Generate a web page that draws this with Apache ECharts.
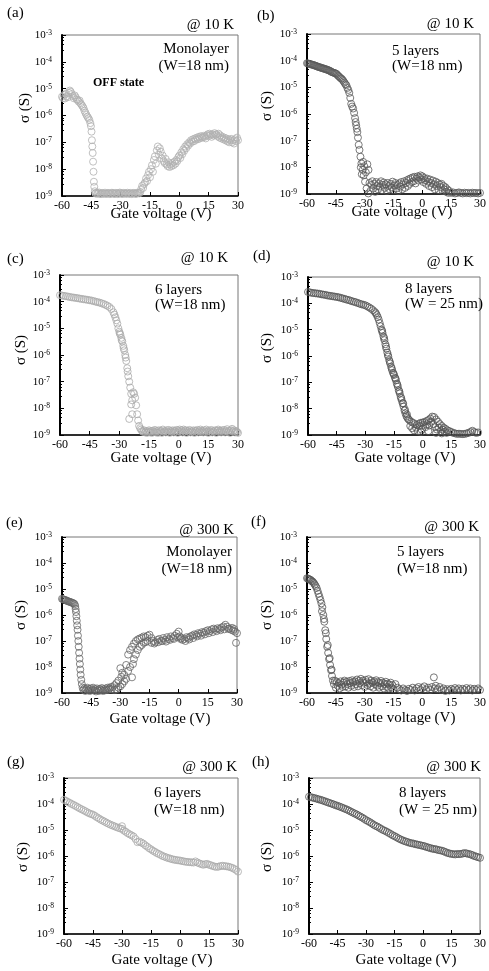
<!DOCTYPE html>
<html><head><meta charset="utf-8">
<script src="https://cdn.jsdelivr.net/npm/echarts@6/dist/echarts.min.js"></script>
<style>html,body{margin:0;padding:0;background:#fff}#c{width:489px;height:971px}</style>
</head><body><div id="c"></div>
<script>
// ---------------- DATA ----------------
const xTicks = [-60, -45, -30, -15, 0, 15, 30];
const yDecades = [-9, -8, -7, -6, -5, -4, -3];
const panelLabels = ['(a)', '(b)', '(c)', '(d)', '(e)', '(f)', '(g)', '(h)'];
const temps = ['@ 10 K', '@ 10 K', '@ 10 K', '@ 10 K', '@ 300 K', '@ 300 K', '@ 300 K', '@ 300 K'];
const sampleName = ['Monolayer', '5 layers', '6 layers', '8 layers', 'Monolayer', '5 layers', '6 layers', '8 layers'];
const sampleWidth = ['(W=18 nm)', '(W=18 nm)', '(W=18 nm)', '(W = 25 nm)', '(W=18 nm)', '(W=18 nm)', '(W=18 nm)', '(W = 25 nm)'];
const xTitle = 'Gate voltage (V)';
const yTitle = 'σ (S)';
const offNote = 'OFF state';

// (a) Monolayer @10 K  [gate voltage V, conductance S]
const mono10 = [
[-60,5.0e-6],[-59.5,4.4e-6],[-59,5.8e-6],[-58.5,4.3e-6],[-58,6.5e-6],[-57.5,5.2e-6],[-57,4.8e-6],[-56.5,7.0e-6],[-56,8.5e-6],[-55.5,7.6e-6],[-55,6.3e-6],[-54.5,5.3e-6],[-54,4.4e-6],[-53.5,5.6e-6],[-53,4.8e-6],[-52.5,4.0e-6],[-52,3.8e-6],[-51.5,3.3e-6],[-51,3.6e-6],[-50.5,2.8e-6],[-50,2.5e-6],[-49.5,2.2e-6],[-49,1.9e-6],[-48.5,1.5e-6],[-48,1.25e-6],[-47.5,1.05e-6],[-47,9e-7],[-46.5,8e-7],[-46,6.8e-7],[-45.5,5.2e-7],[-45.2,4e-7],[-44.9,2.5e-7],[-44.7,1.2e-7],[-44.5,7e-8],[-44.3,4e-8],[-44.1,1.9e-8],[-43.9,8e-9],[-43.7,3.4e-9],[-43.5,2.2e-9],[-43.2,1.5e-9],
[-43,1.25e-9],[-42.5,1.32e-9],[-42,1.2e-9],[-41.5,1.28e-9],[-41,1.35e-9],[-40.5,1.2e-9],[-40,1.18e-9],[-39.5,1.3e-9],[-39,1.25e-9],[-38.5,1.2e-9],[-38,1.33e-9],[-37.5,1.22e-9],[-37,1.2e-9],[-36.5,1.3e-9],[-36,1.27e-9],[-35.5,1.18e-9],[-35,1.22e-9],[-34.5,1.32e-9],[-34,1.3e-9],[-33.5,1.2e-9],[-33,1.2e-9],[-32.5,1.3e-9],[-32,1.28e-9],[-31.5,1.18e-9],[-31,1.22e-9],[-30.5,1.34e-9],[-30,1.3e-9],[-29.5,1.2e-9],[-29,1.2e-9],[-28.5,1.3e-9],[-28,1.27e-9],[-27.5,1.2e-9],[-27,1.25e-9],[-26.5,1.32e-9],[-26,1.2e-9],[-25.5,1.25e-9],[-25,1.3e-9],[-24.5,1.18e-9],[-24,1.22e-9],[-23.5,1.3e-9],[-23,1.28e-9],[-22.5,1.2e-9],[-22,1.2e-9],[-21.5,1.33e-9],[-21,1.3e-9],[-20.5,1.25e-9],
[-20,1.4e-9],[-19.5,1.8e-9],[-19,2.4e-9],[-18.5,2.0e-9],[-18,2.8e-9],[-17.5,3.2e-9],[-17,4.5e-9],[-16.5,3.6e-9],[-16,6e-9],[-15.5,8e-9],[-15,5e-9],[-14.5,1.0e-8],[-14,1.4e-8],[-13.5,8e-9],[-13,2.2e-8],[-12.5,3.0e-8],[-12,1.6e-8],[-11.5,5e-8],[-11,7e-8],[-10.5,3.5e-8],[-10,6e-8],[-9.5,4.5e-8],[-9,2.5e-8],[-8.5,3.2e-8],[-8,2e-8],[-7.5,1.7e-8],[-7,2.4e-8],[-6.5,1.5e-8],[-6,1.3e-8],[-5.5,1.8e-8],[-5,1.2e-8],[-4.5,1.5e-8],[-4,1.3e-8],[-3.5,1.7e-8],[-3,1.4e-8],[-2.5,1.9e-8],[-2,1.6e-8],[-1.5,2.2e-8],[-1,2.0e-8],[-0.5,2.8e-8],[0,3.2e-8],[0.5,2.6e-8],[1,4.2e-8],[1.5,3.6e-8],[2,5.5e-8],[2.5,4.8e-8],[3,7e-8],[3.5,6e-8],[4,8.5e-8],[4.5,7.5e-8],[5,1.0e-7],[5.5,9e-8],[6,1.2e-7],[6.5,1.05e-7],[7,1.3e-7],[7.5,1.1e-7],[8,1.4e-7],[8.5,1.25e-7],[9,1.5e-7],[9.5,1.3e-7],[10,1.6e-7],[10.5,1.4e-7],[11,1.7e-7],[11.5,1.5e-7],[12,1.55e-7],[12.5,1.75e-7],[13,1.6e-7],[13.5,1.4e-7],[14,1.8e-7],[14.5,2.0e-7],[15,1.7e-7],[15.5,2.1e-7],[16,1.9e-7],[16.5,1.6e-7],[17,2.0e-7],[17.5,1.8e-7],[18,2.2e-7],[18.5,1.9e-7],[19,2.0e-7],[19.5,1.7e-7],[20,2.1e-7],[20.5,1.5e-7],[21,1.8e-7],[21.5,1.4e-7],[22,1.6e-7],[22.5,1.3e-7],[23,1.5e-7],[23.5,1.2e-7],[24,1.4e-7],[24.5,1.1e-7],[25,1.3e-7],[25.5,1.0e-7],[26,1.2e-7],[26.5,1.35e-7],[27,1.0e-7],[27.5,1.2e-7],[28,9e-8],[28.5,1.3e-7],[29,1.1e-7],[29.5,1.5e-7],[30,1.2e-7]
];

// (b) 5 layers @10 K
const five10 = [
[-60,8.0e-5],[-59.5,7.8e-5],[-59,7.7e-5],[-58.5,7.5e-5],[-58,7.3e-5],[-57.5,7.1e-5],[-57,7.0e-5],[-56.5,6.8e-5],[-56,6.6e-5],[-55.5,6.4e-5],[-55,6.2e-5],[-54.5,6.0e-5],[-54,5.8e-5],[-53.5,5.7e-5],[-53,5.5e-5],[-52.5,5.4e-5],[-52,5.2e-5],[-51.5,5.1e-5],[-51,5.0e-5],[-50.5,4.8e-5],[-50,4.7e-5],[-49.5,4.6e-5],[-49,4.4e-5],[-48.5,4.3e-5],[-48,4.1e-5],[-47.5,3.9e-5],[-47,3.7e-5],[-46.5,3.6e-5],[-46,3.5e-5],[-45.5,3.4e-5],[-45,3.3e-5],[-44.5,3.1e-5],[-44,2.8e-5],[-43.5,2.6e-5],[-43,2.4e-5],[-42.5,2.2e-5],[-42,2.1e-5],[-41.5,1.9e-5],[-41,1.7e-5],[-40.5,1.5e-5],[-40,1.3e-5],[-39.5,1.2e-5],[-39,9.5e-6],[-38.5,8e-6],[-38,6.2e-6],[-37.5,4e-6],[-37,2.4e-6],[-36.5,1.9e-6],[-36,1.6e-6],[-35.5,1.1e-6],[-35,7e-7],[-34.7,5e-7],[-34.4,3.8e-7],[-34.1,2.8e-7],[-33.8,2.1e-7],[-33.5,1.3e-7],[-33.1,7e-8],[-32.7,4.5e-8],[-32.2,2.5e-8],[-31.7,1.4e-8],[-31,8e-9],[-30.5,5e-9],[-29.8,2.9e-9],[-29,1.6e-9],[-28.1,1.05e-9],
[-32,1.0e-8],[-31.5,5.5e-9],[-30.8,1.6e-8],[-30.2,1.1e-8],[-29.4,6.5e-9],[-28.6,1.3e-8],[-28,8e-9],
[-27.5,2.6e-9],[-27,1.3e-9],[-26.5,2.2e-9],[-26,3.0e-9],[-25.5,1.6e-9],[-25,2.4e-9],[-24.5,1.2e-9],[-24,2.8e-9],[-23.5,2.0e-9],[-23,1.5e-9],[-22.5,2.5e-9],[-22,1.9e-9],[-21.5,3.0e-9],[-21,1.4e-9],[-20.5,2.2e-9],[-20,2.7e-9],[-19.5,1.7e-9],[-19,2.3e-9],[-18.5,1.3e-9],[-18,2.6e-9],[-17.5,2.0e-9],[-17,1.5e-9],[-16.5,2.4e-9],[-16,1.8e-9],[-15.5,2.9e-9],[-15,1.4e-9],[-14.5,2.1e-9],[-14,2.6e-9],[-13.5,1.6e-9],[-13,2.2e-9],[-12.5,1.3e-9],[-12,2.5e-9],[-11.5,1.9e-9],[-11,2.8e-9],[-10.5,1.5e-9],[-10,2.3e-9],[-9.5,3.0e-9],[-9,1.7e-9],[-8.5,2.6e-9],[-8,3.3e-9],[-7.5,2.0e-9],[-7,3.6e-9],[-6.5,2.4e-9],[-6,3.9e-9],[-5.5,2.8e-9],[-5,4.2e-9],[-4.5,3.0e-9],[-4,4.4e-9],[-3.5,2.5e-9],[-3,3.8e-9],[-2.5,4.6e-9],[-2,3.2e-9],[-1.5,4.2e-9],[-1,5.0e-9],[-0.5,3.5e-9],[0,4.6e-9],[0.5,2.8e-9],[1,4.0e-9],[1.5,3.3e-9],[2,2.4e-9],[2.5,3.8e-9],[3,2.9e-9],[3.5,2.0e-9],[4,3.5e-9],[4.5,2.6e-9],[5,1.8e-9],[5.5,3.2e-9],[6,2.3e-9],[6.5,1.5e-9],[7,2.9e-9],[7.5,2.0e-9],[8,2.6e-9],[8.5,1.4e-9],[9,2.3e-9],[9.5,1.8e-9],[10,2.4e-9],[10.5,1.3e-9],[11,2.0e-9],[11.5,1.5e-9],[12,1.8e-9],[12.5,1.2e-9],[13,1.5e-9],[13.5,1.1e-9],[14,1.3e-9],[15,1.1e-9],[16,1.15e-9],[17,1.05e-9],[18,1.1e-9],[19,1.15e-9],[20,1.1e-9],[21,1.05e-9],[22,1.12e-9],[23,1.08e-9],[24,1.1e-9],[25,1.05e-9],[26,1.12e-9],[27,1.08e-9],[28,1.1e-9],[29,1.05e-9],[30,1.1e-9]
];

// (c) 6 layers @10 K
const six10 = [
[-60,1.75e-4],[-59,1.7e-4],[-58,1.65e-4],[-57,1.6e-4],[-56,1.55e-4],[-55,1.5e-4],[-54,1.45e-4],[-53,1.42e-4],[-52,1.38e-4],[-51,1.35e-4],[-50,1.3e-4],[-49,1.27e-4],[-48,1.23e-4],[-47,1.2e-4],[-46,1.17e-4],[-45,1.13e-4],[-44,1.1e-4],[-43,1.05e-4],[-42,1.0e-4],[-41,9.6e-5],[-40,9.2e-5],[-39,8.7e-5],[-38,8.2e-5],[-37,7.6e-5],[-36,7e-5],[-35,6.3e-5],[-34,5.3e-5],[-33,4.0e-5],[-32.5,3.3e-5],[-32,2.6e-5],[-31.5,2.0e-5],[-31,1.5e-5],[-30.5,1.0e-5],[-30,7.5e-6],[-29.5,5.8e-6],[-29,4.4e-6],[-28.5,3.2e-6],[-28,2.2e-6],[-27.5,1.5e-6],[-27,1.0e-6],[-26.5,6e-7],[-26,3.2e-7],[-25.5,1.6e-7],[-25,1.0e-7],[-24.5,6e-8],[-24,3.5e-8],[-23.5,2e-8],[-23,4e-8],[-22.5,3.5e-8],[-22,2.5e-8],[-21.5,1.3e-8],[-21,6e-9],[-20.5,3.5e-9],[-20,2.2e-9],
[-29.8,6.5e-6],[-28.8,3.6e-6],[-27.8,1.8e-6],[-26.8,8e-7],[-25.8,2.4e-7],[-25,4e-9],[-23.5,6e-9],[-24,1.4e-8],
[-19.5,1.8e-9],[-19,1.6e-9],[-18.5,1.4e-9],[-18,1.3e-9],[-17.5,1.5e-9],[-17,1.25e-9],[-16.5,1.4e-9],[-16,1.2e-9],[-15.5,1.35e-9],[-15,1.5e-9],[-14.5,1.25e-9],[-14,1.4e-9],[-13.5,1.2e-9],[-13,1.45e-9],[-12.5,1.3e-9],[-12,1.55e-9],[-11.5,1.25e-9],[-11,1.4e-9],[-10.5,1.2e-9],[-10,1.5e-9],[-9.5,1.3e-9],[-9,1.45e-9],[-8.5,1.2e-9],[-8,1.6e-9],[-7.5,1.3e-9],[-7,1.4e-9],[-6.5,1.25e-9],[-6,1.5e-9],[-5.5,1.3e-9],[-5,1.55e-9],[-4.5,1.2e-9],[-4,1.4e-9],[-3.5,1.3e-9],[-3,1.5e-9],[-2.5,1.25e-9],[-2,1.45e-9],[-1.5,1.3e-9],[-1,1.55e-9],[-0.5,1.2e-9],[0,1.4e-9],[0.5,1.6e-9],[1,1.3e-9],[1.5,1.5e-9],[2,1.25e-9],[2.5,1.6e-9],[3,1.35e-9],[3.5,1.5e-9],[4,1.2e-9],[4.5,1.45e-9],[5,1.3e-9],[5.5,1.55e-9],[6,1.25e-9],[6.5,1.4e-9],[7,1.3e-9],[7.5,1.5e-9],[8,1.2e-9],[8.5,1.45e-9],[9,1.3e-9],[9.5,1.55e-9],[10,1.25e-9],[10.5,1.4e-9],[11,1.6e-9],[11.5,1.3e-9],[12,1.45e-9],[12.5,1.25e-9],[13,1.5e-9],[13.5,1.3e-9],[14,1.6e-9],[14.5,1.35e-9],[15,1.2e-9],[15.5,1.45e-9],[16,1.3e-9],[16.5,1.55e-9],[17,1.25e-9],[17.5,1.4e-9],[18,1.3e-9],[18.5,1.5e-9],[19,1.2e-9],[19.5,1.45e-9],[20,1.6e-9],[20.5,1.3e-9],[21,1.45e-9],[21.5,1.25e-9],[22,1.5e-9],[22.5,1.3e-9],[23,1.55e-9],[23.5,1.25e-9],[24,1.4e-9],[24.5,1.65e-9],[25,1.3e-9],[25.5,1.45e-9],[26,1.2e-9],[26.5,1.5e-9],[27,1.7e-9],[27.5,1.35e-9],[28,1.5e-9],[28.5,1.25e-9],[29,1.4e-9],[29.5,1.3e-9],[30,1.2e-9]
];

// (d) 8 layers @10 K
const eight10 = [
[-60,2.7e-4],[-59,2.6e-4],[-58,2.5e-4],[-57,2.45e-4],[-56,2.4e-4],[-55,2.35e-4],[-54,2.3e-4],[-53,2.2e-4],[-52,2.15e-4],[-51,2.1e-4],[-50,2.0e-4],[-49,1.95e-4],[-48,1.9e-4],[-47,1.85e-4],[-46,1.8e-4],[-45,1.75e-4],[-44,1.7e-4],[-43,1.62e-4],[-42,1.55e-4],[-41,1.48e-4],[-40,1.4e-4],[-39,1.35e-4],[-38,1.28e-4],[-37,1.2e-4],[-36,1.15e-4],[-35,1.1e-4],[-34,1.03e-4],[-33,9.7e-5],[-32,9.2e-5],[-31,8.8e-5],[-30,8.4e-5],[-29,7.7e-5],[-28,7e-5],[-27,6.3e-5],[-26,5.5e-5],[-25,4.7e-5],[-24.5,4.2e-5],[-24,3.6e-5],[-23.5,3.0e-5],[-23,2.4e-5],[-22.5,1.8e-5],[-22,1.35e-5],[-21.5,1.0e-5],[-21,7.5e-6],[-20.5,5.5e-6],[-20,4e-6],[-19.5,2.8e-6],[-19,1.9e-6],[-18.5,1.35e-6],[-18,9.5e-7],[-17.5,7e-7],[-17,5.2e-7],[-16.5,3.9e-7],[-16,2.9e-7],[-15.5,2.3e-7],[-15,1.9e-7],[-14.5,1.5e-7],[-14,1.2e-7],[-13.5,9e-8],[-13,6.8e-8],[-12.5,5e-8],[-12,3.8e-8],[-11.5,2.8e-8],[-11,2.1e-8],[-10.5,1.6e-8],[-10,1.2e-8],[-9.5,8.5e-9],[-9,6.6e-9],[-8.5,5.2e-9],[-8,4.5e-9],[-7.5,4e-9],[-7,3.7e-9],[-6,3.2e-9],[-5,2.9e-9],[-4,2.6e-9],[-3,2.4e-9],[-2,2.7e-9],[-1,2.9e-9],[0,3.0e-9],[1,3.1e-9],[2,3.4e-9],[3,3.7e-9],[4,4.2e-9],[5,5.0e-9],[6,4.8e-9],[7,3.9e-9],[8,3.2e-9],[9,2.6e-9],[10,2.2e-9],[11,1.9e-9],[12,1.7e-9],[13,1.5e-9],[14,1.4e-9],[15,1.3e-9],[16,1.2e-9],[17,1.15e-9],[18,1.1e-9],[19,1.12e-9],[20,1.1e-9],[21,1.08e-9],[22,1.1e-9],[23,1.15e-9],[24,1.2e-9],[25,1.3e-9],[26,1.45e-9],[27,1.3e-9],[28,1.2e-9],[29,1.25e-9],
[-21.2,9e-6],[-20.2,4.8e-6],[-19.2,2.3e-6],[-18.2,1.1e-6],[-17.2,6e-7],[-16.2,3.4e-7],[-15.2,2.1e-7],[-14.2,1.4e-7],[-13.2,8e-8],[-12.2,4.5e-8],[-11.2,2.5e-8],[-10.2,1.6e-8],[-9.2,9e-9],[-8.2,6e-9],
[-6.5,2.2e-9],[-5.5,1.8e-9],[-4.5,1.5e-9],[-3.5,1.9e-9],[-2.5,1.4e-9],[-1.5,2.2e-9],[-0.5,1.6e-9],[0.5,2.4e-9],[1.5,2.0e-9],[2.5,2.6e-9],[3.5,2.3e-9],[4.5,3.2e-9],[5.5,2.6e-9],[6.5,2.0e-9],[7.5,1.6e-9],[8.5,1.9e-9],[9.5,1.4e-9],[10.5,1.6e-9],[11.5,1.3e-9],[12.5,1.2e-9],[-1,1.3e-9],[3,1.4e-9],[7,1.2e-9],[10,1.15e-9]
];

// (e) Monolayer @300 K
const mono300 = [
[-60,4.2e-6],[-59.5,4.0e-6],[-59,3.9e-6],[-58.5,3.8e-6],[-58,3.7e-6],[-57.5,3.5e-6],[-57,3.4e-6],[-56.5,3.3e-6],[-56,3.2e-6],[-55.5,3.1e-6],[-55,3.0e-6],[-54.5,2.9e-6],[-54,2.8e-6],[-53.5,2.6e-6],[-53.2,2.2e-6],[-53,1.7e-6],[-52.8,1.3e-6],[-52.6,9e-7],[-52.4,6e-7],[-52.2,4e-7],[-52,2.7e-7],[-51.8,1.6e-7],[-51.6,1.0e-7],[-51.4,6e-8],[-51.2,3.5e-8],[-51,2.1e-8],[-50.8,1.3e-8],[-50.6,8e-9],[-50.4,5e-9],[-50.1,3.2e-9],[-49.8,2.2e-9],[-49.4,1.6e-9],
[-49,1.3e-9],[-48.5,1.5e-9],[-48,1.2e-9],[-47.5,1.4e-9],[-47,1.6e-9],[-46.5,1.25e-9],[-46,1.45e-9],[-45.5,1.2e-9],[-45,1.5e-9],[-44.5,1.3e-9],[-44,1.6e-9],[-43.5,1.25e-9],[-43,1.4e-9],[-42.5,1.15e-9],[-42,1.5e-9],[-41.5,1.3e-9],[-41,1.2e-9],[-40.5,1.45e-9],[-40,1.3e-9],[-39.5,1.55e-9],[-39,1.2e-9],[-38.5,1.4e-9],[-38,1.25e-9],[-37.5,1.5e-9],[-37,1.3e-9],[-36.5,1.6e-9],[-36,1.35e-9],[-35.5,1.5e-9],[-35,1.7e-9],[-34.5,1.4e-9],
[-34,1.7e-9],[-33,2e-9],[-32,2.4e-9],[-31,3e-9],[-30,9e-9],[-29.5,4.2e-9],[-29,6e-9],[-28,5e-9],[-27,1.2e-8],[-26,3e-8],[-25,4.5e-8],[-24,6e-8],[-23,8e-8],[-22,1.0e-7],[-21,1.15e-7],[-20,1.25e-7],[-19,1.35e-7],[-18,1.5e-7],[-17,1.4e-7],[-16,1.6e-7],[-15,1.75e-7],
[-33,1.3e-9],[-32,1.4e-9],[-31,1.6e-9],[-30,1.8e-9],[-29,2.2e-9],[-28,2.8e-9],[-27,3.5e-9],[-26,7e-9],[-25,1.0e-8],[-24,4e-9],[-23.5,1.3e-8],[-23,2.0e-8],[-22,3e-8],[-21,4.5e-8],[-20,6e-8],[-19,7e-8],[-18,8.5e-8],[-17,9e-8],[-16,1.0e-7],[-14,8.5e-8],
[-14,1.3e-7],[-13,1.0e-7],[-12,9e-8],[-11,1.1e-7],[-10,1.2e-7],[-9,1.0e-7],[-8,1.3e-7],[-7,1.1e-7],[-6,1.4e-7],[-5,1.2e-7],[-4,1.5e-7],[-3,1.3e-7],[-2,1.6e-7],[-1,1.9e-7],[0,2.3e-7],[0.5,1.5e-7],[1,1.2e-7],[2,1.1e-7],[3,1.2e-7],[4,1.4e-7],[5,1.3e-7],[6,1.5e-7],[7,1.6e-7],[8,1.8e-7],[9,1.7e-7],[10,2.0e-7],[11,1.9e-7],[12,2.2e-7],[13,2.1e-7],[14,2.4e-7],[15,2.6e-7],[16,2.4e-7],[17,2.8e-7],[18,3.0e-7],[19,2.7e-7],[20,3.1e-7],[21,2.9e-7],[22,3.3e-7],[23,3.6e-7],[24,4.2e-7],[25,3.5e-7],[26,3.0e-7],[27,2.7e-7],[28,2.5e-7],[29,2.3e-7],[29.5,8.5e-8],[30,2.0e-7],
[-12.5,8e-8],[-10.5,9e-8],[-8.5,1.0e-7],[-6.5,9.5e-8],[-4.5,1.1e-7],[-2.5,1.2e-7],[-0.5,1.4e-7],[1.5,1.3e-7],[3.5,1.0e-7],[5.5,1.15e-7],[7.5,1.3e-7],[9.5,1.5e-7],[11.5,1.6e-7],[13.5,1.8e-7],[15.5,2.0e-7],[17.5,2.2e-7],[19.5,2.4e-7],[21.5,2.6e-7],[23.5,2.8e-7],[25.5,2.9e-7],[27.5,3.2e-7],[28.5,2.9e-7]
];

// (f) 5 layers @300 K
const five300 = [
[-60,2.6e-5],[-59.5,2.5e-5],[-59,2.4e-5],[-58.5,2.3e-5],[-58,2.2e-5],[-57.5,2.0e-5],[-57,1.9e-5],[-56.5,1.7e-5],[-56,1.5e-5],[-55.5,1.3e-5],[-55,1.1e-5],[-54.5,8.5e-6],[-54,6.5e-6],[-53.5,5e-6],[-53,3.8e-6],[-52.5,2.8e-6],[-52,2.0e-6],[-51.5,1.0e-6],[-51,5.5e-7],[-50.5,2.6e-7],[-50,1.2e-7],[-49.5,6e-8],[-49,3.5e-8],[-48.5,2.0e-8],[-48,1.2e-8],[-47.5,7.5e-9],[-47,4.5e-9],[-46.5,3.0e-9],
[-52.2,1.4e-6],[-51.2,7e-7],[-50.2,2e-7],[-49.2,7e-8],[-48.2,2.2e-8],[-47.2,8e-9],
[-46,2.2e-9],[-45.5,3.0e-9],[-45,1.6e-9],[-44.5,2.6e-9],[-44,1.9e-9],[-43.5,2.4e-9],[-43,1.5e-9],[-42.5,2.8e-9],[-42,2.1e-9],[-41.5,1.7e-9],[-41,2.5e-9],[-40.5,3.0e-9],[-40,1.8e-9],[-39.5,2.7e-9],[-39,2.2e-9],[-38.5,1.6e-9],[-38,2.9e-9],[-37.5,2.4e-9],[-37,1.9e-9],[-36.5,3.1e-9],[-36,2.6e-9],[-35.5,1.7e-9],[-35,2.8e-9],[-34.5,2.2e-9],[-34,3.3e-9],[-33.5,1.8e-9],[-33,2.9e-9],[-32.5,2.4e-9],[-32,3.5e-9],[-31.5,2.0e-9],[-31,3.0e-9],[-30.5,2.5e-9],[-30,1.7e-9],[-29.5,3.2e-9],[-29,2.6e-9],[-28.5,2.0e-9],[-28,3.4e-9],[-27.5,2.3e-9],[-27,1.8e-9],[-26.5,3.0e-9],[-26,2.5e-9],[-25.5,1.6e-9],[-25,2.8e-9],[-24.5,2.2e-9],[-24,3.1e-9],[-23.5,1.9e-9],[-23,2.6e-9],[-22.5,1.6e-9],[-22,2.4e-9],[-21.5,2.9e-9],[-21,1.8e-9],[-20.5,2.5e-9],[-20,1.5e-9],[-19.5,2.2e-9],[-19,2.7e-9],[-18.5,1.7e-9],[-18,2.3e-9],[-17.5,1.5e-9],[-17,2.1e-9],[-16.5,2.5e-9],[-16,1.6e-9],[-15.5,2.0e-9],[-15,1.4e-9],[-14,2.2e-9],[-13,1.6e-9],
[-12,1.4e-9],[-11,1.25e-9],[-10,1.5e-9],[-9,1.3e-9],[-8,1.2e-9],[-7,1.45e-9],[-6,1.3e-9],[-5,1.6e-9],[-4,1.25e-9],[-3,1.5e-9],[-2,1.7e-9],[-1,1.3e-9],[0,1.55e-9],[1,1.8e-9],[2,1.35e-9],[3,1.6e-9],[4,1.3e-9],[5,1.7e-9],[6,4.0e-9],[6.5,1.5e-9],[7,1.9e-9],[8,1.4e-9],[9,1.7e-9],[10,1.3e-9],[11,1.5e-9],[12,1.2e-9],[13,1.4e-9],[14,1.25e-9],[15,1.45e-9],[16,1.3e-9],[17,1.55e-9],[18,1.3e-9],[19,1.5e-9],[20,1.25e-9],[21,1.45e-9],[22,1.3e-9],[23,1.55e-9],[24,1.3e-9],[25,1.5e-9],[26,1.25e-9],[27,1.45e-9],[28,1.3e-9],[29,1.5e-9],[30,1.3e-9]
];

// (g) 6 layers @300 K
const six300 = [
[-60,1.45e-4],[-59,1.32e-4],[-58,1.2e-4],[-57,1.1e-4],[-56,1.0e-4],[-55,9.2e-5],[-54,8.4e-5],[-53,7.6e-5],[-52,6.9e-5],[-51,6.3e-5],[-50,5.8e-5],[-49,5.3e-5],[-48,4.8e-5],[-47,4.4e-5],[-46,4.1e-5],[-45,3.9e-5],[-44,3.5e-5],[-43,3.1e-5],[-42,2.8e-5],[-41,2.5e-5],[-40,2.3e-5],[-39,2.1e-5],[-38,1.9e-5],[-37,1.75e-5],[-36,1.6e-5],[-35,1.5e-5],[-34,1.4e-5],[-33,1.3e-5],[-32,1.22e-5],[-31,1.15e-5],[-30,1.1e-5],[-29,9.5e-6],[-28,8.5e-6],[-27,7.5e-6],[-26,6.8e-6],[-25,6.2e-6],[-24,5.6e-6],[-23,4.5e-6],[-22,3.4e-6],[-21,3.6e-6],[-20,3.3e-6],[-19,3.0e-6],[-18,2.6e-6],[-17,2.3e-6],[-16,2.0e-6],[-15,1.8e-6],[-14,1.6e-6],[-13,1.45e-6],[-12,1.3e-6],[-11,1.2e-6],[-10,1.1e-6],[-9,1.0e-6],[-8,9.4e-7],[-7,8.8e-7],[-6,8.3e-7],[-5,7.9e-7],[-4,7.5e-7],[-3,7.2e-7],[-2,7.0e-7],[-1,6.8e-7],[0,6.7e-7],[1,6.4e-7],[2,6.2e-7],[3,6.0e-7],[4,5.9e-7],[5,5.8e-7],[6,5.7e-7],[7,5.6e-7],[8,6.2e-7],[9,5.6e-7],[10,5.2e-7],[11,4.9e-7],[12,4.6e-7],[13,4.8e-7],[14,5.0e-7],[15,4.6e-7],[16,4.4e-7],[17,4.1e-7],[18,3.9e-7],[19,3.8e-7],[20,3.9e-7],[21,4.1e-7],[22,4.2e-7],[23,4.1e-7],[24,4.0e-7],[25,3.9e-7],[26,3.7e-7],[27,3.5e-7],[28,3.2e-7],[29,2.9e-7],[30,2.5e-7],[-30,1.4e-5]
];

// (h) 8 layers @300 K
const eight300 = [
[-60,1.9e-4],[-59,1.82e-4],[-58,1.75e-4],[-57,1.68e-4],[-56,1.6e-4],[-55,1.52e-4],[-54,1.45e-4],[-53,1.38e-4],[-52,1.3e-4],[-51,1.22e-4],[-50,1.15e-4],[-49,1.08e-4],[-48,1.02e-4],[-47,9.6e-5],[-46,9.0e-5],[-45,8.5e-5],[-44,8.0e-5],[-43,7.5e-5],[-42,7.0e-5],[-41,6.5e-5],[-40,6.1e-5],[-39,5.6e-5],[-38,5.1e-5],[-37,4.7e-5],[-36,4.3e-5],[-35,4.0e-5],[-34,3.6e-5],[-33,3.3e-5],[-32,3.0e-5],[-31,2.7e-5],[-30,2.4e-5],[-29,2.2e-5],[-28,2.0e-5],[-27,1.8e-5],[-26,1.6e-5],[-25,1.45e-5],[-24,1.35e-5],[-23,1.22e-5],[-22,1.1e-5],[-21,1.0e-5],[-20,9.3e-6],[-19,8.5e-6],[-18,7.7e-6],[-17,7.0e-6],[-16,6.3e-6],[-15,5.8e-6],[-14,5.3e-6],[-13,4.8e-6],[-12,4.4e-6],[-11,4.1e-6],[-10,3.8e-6],[-9,3.6e-6],[-8,3.4e-6],[-7,3.2e-6],[-6,3.1e-6],[-5,3.0e-6],[-4,2.85e-6],[-3,2.75e-6],[-2,2.65e-6],[-1,2.55e-6],[0,2.45e-6],[1,2.35e-6],[2,2.2e-6],[3,2.1e-6],[4,2.0e-6],[5,1.9e-6],[6,1.85e-6],[7,1.8e-6],[8,1.7e-6],[9,1.65e-6],[10,1.6e-6],[11,1.5e-6],[12,1.4e-6],[13,1.3e-6],[14,1.25e-6],[15,1.2e-6],[16,1.18e-6],[17,1.15e-6],[18,1.2e-6],[19,1.18e-6],[20,1.2e-6],[21,1.25e-6],[22,1.3e-6],[23,1.25e-6],[24,1.2e-6],[25,1.15e-6],[26,1.08e-6],[27,1.0e-6],[28,9.5e-7],[29,9e-7],[30,8.5e-7]
];

const seriesData = [mono10, five10, six10, eight10, mono300, five300, six300, eight300];

// ---------------- LAYOUT / STYLE ----------------
const FONT = '"Liberation Serif", "Times New Roman", serif';
const markerColor = ['#b0b0b0', '#5a5a5a', '#aaaaaa', '#555555', '#666666', '#555555', '#aaaaaa', '#555555'];
const grids = [[62,35,176,161],[307,34,176,160],[60,275,178,160],[308,277,175,158],[62,537,175,156],[307,537,174,156],[64,778,174,156],[309,778,173,156]];
const labelPos = [[7,13],[257,16],[7,259],[253,256],[6,523],[251,522],[7,762],[252,762]];
const tempPos = [[234,25],[474,24],[228,258],[474,262],[234,530],[479,527],[237,767],[481,767]];
// [x, y1, y2, align]
const samplePos = [[229,49,66,'right'],[392,51,66,'left'],[155,290,305,'left'],[405,289,304,'left'],[232,552,569,'right'],[397,552,569,'left'],[154,793,810,'left'],[399,793,810,'left']];
const sigmaPos = [[25,108],[267,106],[21,350],[267,348],[21,615],[267,615],[23,857],[267,857]];
const xTitlePos = [[161,214],[402,212],[161,458],[405,458],[160,719],[405,718],[162,960],[406,960]];

const chart = echarts.init(document.getElementById('c'), null, {renderer: 'canvas'});
const option = {
  animation: false,
  backgroundColor: '#fff',
  grid: [], xAxis: [], yAxis: [], series: [], graphic: []
};

function txt(x, y, s, size, align, vAlign, weight, rot) {
  const el = {
    type: 'text', x: x, y: y, silent: true,
    style: {text: s, x: 0, y: 0, fill: '#000',
      font: (weight || 'normal') + ' ' + size + 'px ' + FONT,
      align: align, verticalAlign: vAlign, textAlign: align, textVerticalAlign: vAlign}
  };
  if (rot) el.rotation = rot;
  return el;
}

for (let i = 0; i < 8; i++) {
  const g = grids[i];
  option.grid.push({left: g[0], top: g[1], width: g[2], height: g[3], show: true, borderColor: '#777', borderWidth: 1, backgroundColor: 'transparent'});
  option.xAxis.push({
    type: 'value', gridIndex: i, min: xTicks[0], max: xTicks[xTicks.length - 1], interval: 15,
    axisLine: {show: true, onZero: false, lineStyle: {color: '#000', width: 1.5}},
    axisTick: {show: true, inside: true, length: 4, lineStyle: {color: '#000'}},
    axisLabel: {fontFamily: FONT, fontSize: 12, color: '#000', margin: 4},
    splitLine: {show: false}
  });
  option.yAxis.push({
    type: 'log', logBase: 10, gridIndex: i,
    min: Math.pow(10, yDecades[0]), max: Math.pow(10, yDecades[yDecades.length - 1]), splitNumber: 6,
    axisLine: {show: true, onZero: false, lineStyle: {color: '#000', width: 2}},
    axisTick: {show: true, inside: true, length: 4, lineStyle: {color: '#000'}},
    minorTick: {show: true, splitNumber: 5, length: 2, lineStyle: {color: '#000'}},
    splitLine: {show: false}, minorSplitLine: {show: false},
    axisLabel: {
      margin: 10, color: '#000',
      formatter: function (v) { return '{b|10}{s|' + Math.round(Math.log10(v)) + '}'; },
      rich: {
        b: {fontFamily: FONT, fontSize: 11, color: '#000', lineHeight: 12},
        s: {fontFamily: FONT, fontSize: 7.5, color: '#000', verticalAlign: 'top', lineHeight: 8}
      }
    }
  });
  option.series.push({
    type: 'scatter', xAxisIndex: i, yAxisIndex: i, data: seriesData[i],
    symbol: 'circle', symbolSize: 7, silent: true,
    itemStyle: {color: 'rgba(255,255,255,0)', borderColor: markerColor[i], borderWidth: 1}
  });
  option.graphic.push(txt(labelPos[i][0], labelPos[i][1], panelLabels[i], 15, 'left', 'middle'));
  option.graphic.push(txt(tempPos[i][0], tempPos[i][1], temps[i], 15, 'right', 'middle'));
  const sp = samplePos[i];
  option.graphic.push(txt(sp[0], sp[1], sampleName[i], 15, sp[3], 'middle'));
  option.graphic.push(txt(sp[0], sp[2], sampleWidth[i], 15, sp[3], 'middle'));
  option.graphic.push(txt(sigmaPos[i][0], sigmaPos[i][1], yTitle, 15, 'center', 'middle', 'normal', Math.PI / 2));
  option.graphic.push(txt(xTitlePos[i][0], xTitlePos[i][1], xTitle, 15, 'center', 'middle'));
}
option.graphic.push(txt(93, 83, offNote, 12, 'left', 'middle', 'bold'));

chart.setOption(option);
</script>
</body></html>
